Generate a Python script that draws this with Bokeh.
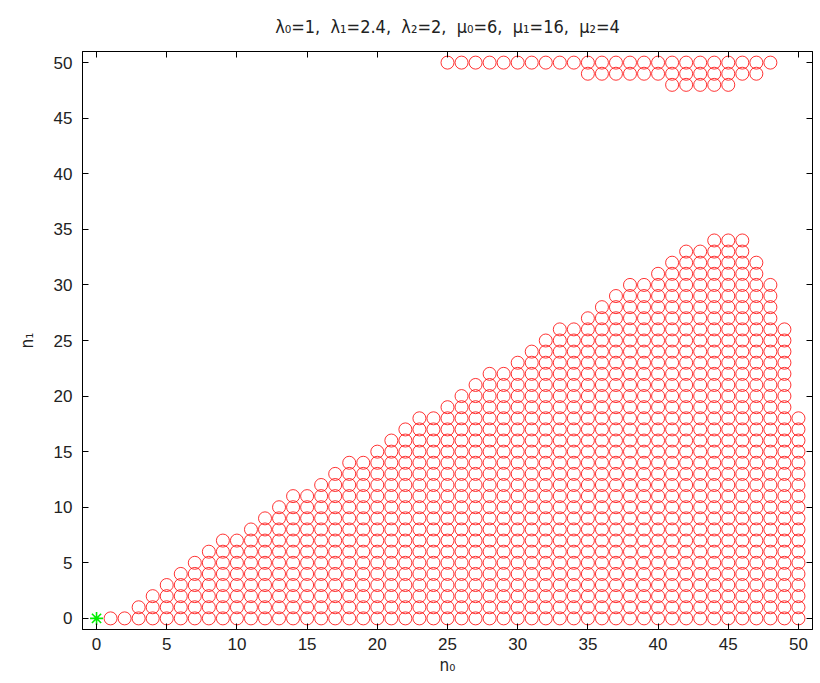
from bokeh.plotting import figure
from bokeh.models import Range1d, LinearAxis, FixedTicker, ColumnDataSource
from bokeh.embed import file_html
from bokeh.resources import INLINE

# ---- data ----
title_text = "λ₀=1,\u00a0 λ₁=2.4,\u00a0 λ₂=2,\u00a0 μ₀=6,\u00a0 μ₁=16,\u00a0 μ₂=4"
x_label = "n₀"
y_label = "n₁"
ticks = [0, 5, 10, 15, 20, 25, 30, 35, 40, 45, 50]

# lower region: for each n0 (1..50) red circles from n1 = 0 up to n1_max
col_n0 = list(range(1, 51))
col_n1_max = [0, 0, 1, 2, 3, 4, 5, 6, 7, 7,
              8, 9, 10, 11, 11, 12, 13, 14, 14, 15,
              16, 17, 18, 18, 19, 20, 21, 22, 22, 23,
              24, 25, 26, 26, 27, 28, 29, 30, 30, 31,
              32, 33, 33, 34, 34, 34, 32, 30, 26, 18]

# upper region: rows at n1 with n0 ranges
upper_n1 = [50, 49, 48]
upper_n0_start = [25, 35, 41]
upper_n0_end = [48, 47, 45]

# starting state (green star)
start_n0 = [0]
start_n1 = [0]

# ---- build point lists ----
xs, ys = [], []
for n0, top in zip(col_n0, col_n1_max):
    for n1 in range(0, top + 1):
        xs.append(n0)
        ys.append(n1)
for n1, a, b in zip(upper_n1, upper_n0_start, upper_n0_end):
    for n0 in range(a, b + 1):
        xs.append(n0)
        ys.append(n1)

FONT = "Liberation Sans"

p = figure(width=820, height=683, frame_width=730, frame_height=578,
           x_range=Range1d(-1, 51), y_range=Range1d(-1, 51),
           output_backend="svg", toolbar_location=None,
           min_border_left=82, min_border_right=8,
           min_border_top=51, min_border_bottom=54,
           title=title_text)

p.title.align = "center"
p.title.text_font = "DejaVu Sans Condensed"
p.title.text_font_size = "18px"
p.title.text_font_style = "normal"
p.title.text_color = "#222222"
p.title.standoff = 26
p.title.vertical_align = "top"

p.grid.visible = False
p.outline_line_color = "black"
p.outline_line_width = 1

for ax in (p.xaxis[0], p.yaxis[0]):
    ax.ticker = FixedTicker(ticks=ticks)
    ax.major_tick_in = 6
    ax.major_tick_out = 0
    ax.minor_tick_line_color = None
    ax.axis_line_color = "black"
    ax.major_tick_line_color = "black"
    ax.major_label_text_font = FONT
    ax.major_label_text_font_size = "17px"
    ax.major_label_text_color = "#222222"
    ax.axis_label_text_font = "DejaVu Sans Condensed"
    ax.axis_label_text_font_size = "17px"
    ax.axis_label_text_font_style = "normal"
    ax.axis_label_text_color = "#222222"

p.xaxis[0].axis_label = x_label
p.xaxis[0].major_label_standoff = 8
p.xaxis[0].axis_label_standoff = 2
p.yaxis[0].axis_label = y_label
p.yaxis[0].major_label_standoff = 10
p.yaxis[0].axis_label_standoff = 14

for loc in ("above", "right"):
    ax = LinearAxis(ticker=FixedTicker(ticks=ticks))
    ax.major_tick_in = 6
    ax.major_tick_out = 0
    ax.minor_tick_line_color = None
    ax.major_label_text_font_size = "1px"
    ax.major_label_text_color = None
    ax.major_label_standoff = 0
    p.add_layout(ax, loc)

src = ColumnDataSource(dict(x=xs, y=ys))
p.scatter("x", "y", source=src, marker="circle", size=13,
          fill_color=None, line_color="#ff0000", line_width=1.0, line_alpha=0.8)

p.scatter(start_n0, start_n1, marker="asterisk", size=13,
          line_color="#00ee00", line_width=1.6)

open("out.html", "w").write(file_html(p, INLINE))
